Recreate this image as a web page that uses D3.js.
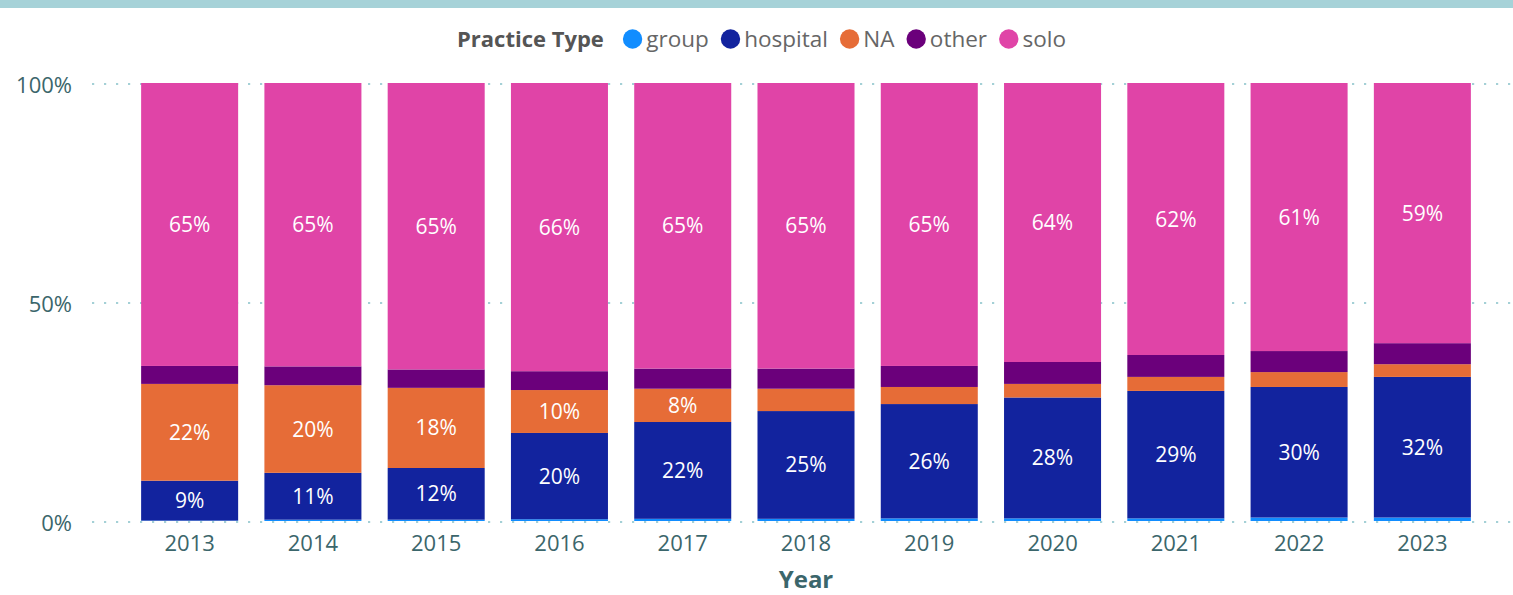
<!DOCTYPE html>
<html>
<head>
<meta charset="utf-8">
<script src="https://cdn.jsdelivr.net/npm/d3@7"></script>
<style>
  html, body { margin: 0; padding: 0; background: #fff; }
  svg { display: block; font-family: "Open Sans", "Segoe UI", sans-serif; }
</style>
</head>
<body>
<svg id="chart" width="1513" height="595"></svg>
<script>
// Share of physicians by practice type, per year (percent of total)
const years = ["2013","2014","2015","2016","2017","2018","2019","2020","2021","2022","2023"];
const practiceTypes = ["group","hospital","NA","other","solo"];
const groupShare    = [0.1, 0.3, 0.3, 0.4, 0.5, 0.5, 0.6, 0.6, 0.6, 0.8, 0.8];
const hospitalShare = [9.1, 10.7, 11.8, 19.7, 22.1, 24.6, 26.1, 27.6, 29.1, 29.8, 32.1];
const naShare       = [22.1, 20.0, 18.3, 9.8, 7.6, 5.1, 3.9, 3.1, 3.2, 3.4, 2.9];
const otherShare    = [4.1, 4.3, 4.2, 4.3, 4.6, 4.6, 4.8, 5.0, 5.0, 4.8, 4.8];
const soloShare     = [64.6, 64.7, 65.4, 65.8, 65.2, 65.2, 64.6, 63.7, 62.1, 61.2, 59.4];
const yTicks = [0, 0.5, 1];
const colors = ["#118DFF", "#12239E", "#E66C37", "#6B007B", "#E044A7"];

const seriesValues = {group: groupShare, hospital: hospitalShare, NA: naShare, other: otherShare, solo: soloShare};
const rows = years.map((y, i) => {
  const r = {year: y};
  practiceTypes.forEach(k => r[k] = seriesValues[k][i]);
  return r;
});

const svg = d3.select("#chart");
const W = 1513;
const axisColor = "#3b666b";

// top accent band
svg.append("rect").attr("x", 0).attr("y", 0).attr("width", W).attr("height", 8).attr("fill", "#a6d2d8");

const x = d3.scaleBand().domain(years).range([128, 1484]).paddingInner(0.213).paddingOuter(0.1065);
const y = d3.scaleLinear().domain([0, 1]).range([521, 83]);
const color = d3.scaleOrdinal().domain(practiceTypes).range(colors);

// dotted gridlines
svg.append("g").selectAll("line").data(yTicks).join("line")
  .attr("x1", 92).attr("x2", 1512)
  .attr("y1", d => y(d) + 1).attr("y2", d => y(d) + 1)
  .attr("stroke", "#a4d0d6").attr("stroke-width", 2.2)
  .attr("stroke-dasharray", "2.2,9.8");

// y axis labels
const yAxis = d3.axisLeft(y).tickValues(yTicks).tickFormat(d3.format(".0%")).tickSize(0).tickPadding(0);
const gy = svg.append("g").attr("transform", "translate(72,2)").call(yAxis);
gy.select(".domain").remove();
gy.selectAll("text").attr("fill", axisColor).style("font-size", "22px").style("font-family", "'Open Sans', sans-serif");

// x axis labels
const xAxis = d3.axisBottom(x).tickSize(0).tickPadding(0);
const gx = svg.append("g").attr("transform", "translate(0,535)").call(xAxis);
gx.select(".domain").remove();
gx.selectAll("text").attr("fill", axisColor).style("font-size", "22px").style("font-family", "'Open Sans', sans-serif");

svg.append("text").attr("x", x("2018") + x.bandwidth() / 2).attr("y", 588)
  .attr("text-anchor", "middle").attr("fill", axisColor)
  .style("font-size", "24px").style("font-weight", "bold").text("Year");

// stacked bars
const stacked = d3.stack().keys(practiceTypes).offset(d3.stackOffsetExpand)(rows);
const layers = svg.append("g").selectAll("g").data(stacked).join("g").attr("fill", d => color(d.key));
layers.selectAll("rect").data(d => d).join("rect")
  .attr("x", d => x(d.data.year))
  .attr("width", x.bandwidth())
  .attr("y", d => y(d[1]))
  .attr("height", d => y(d[0]) - y(d[1]));

// value labels inside the larger segments
const fmt = d3.format(".0%");
const labelData = stacked.flatMap(s => s.map(d => ({key: s.key, d})))
  .filter(o => (o.d[1] - o.d[0]) >= 0.07);
svg.append("g").selectAll("text").data(labelData).join("text")
  .attr("x", o => x(o.d.data.year) + x.bandwidth() / 2)
  .attr("y", o => (y(o.d[0]) + y(o.d[1])) / 2)
  .attr("dy", "0.36em")
  .attr("text-anchor", "middle")
  .attr("fill", "#fff")
  .style("font-size", "21px")
  .text(o => fmt(o.d[1] - o.d[0]));

// legend, laid out left to right from measured text widths
const legend = svg.append("g").attr("transform", "translate(0,39)");
const title = legend.append("text").attr("x", 457).attr("y", 0).attr("dy", "0.35em")
  .attr("fill", "#555").style("font-size", "22px").style("font-weight", "bold").text("Practice Type");
const r = 9.7;
let cursor = 457 + title.node().getComputedTextLength() + 19;
practiceTypes.forEach(k => {
  const item = legend.append("g").attr("transform", `translate(${cursor},0)`);
  item.append("circle").attr("cx", r).attr("r", r).attr("fill", color(k));
  const t = item.append("text").attr("x", 2 * r + 4).attr("dy", "0.35em").attr("fill", "#666")
    .style("font-size", "22.5px").text(k);
  cursor += 2 * r + 4 + t.node().getComputedTextLength() + 12;
});
</script>
</body>
</html>
